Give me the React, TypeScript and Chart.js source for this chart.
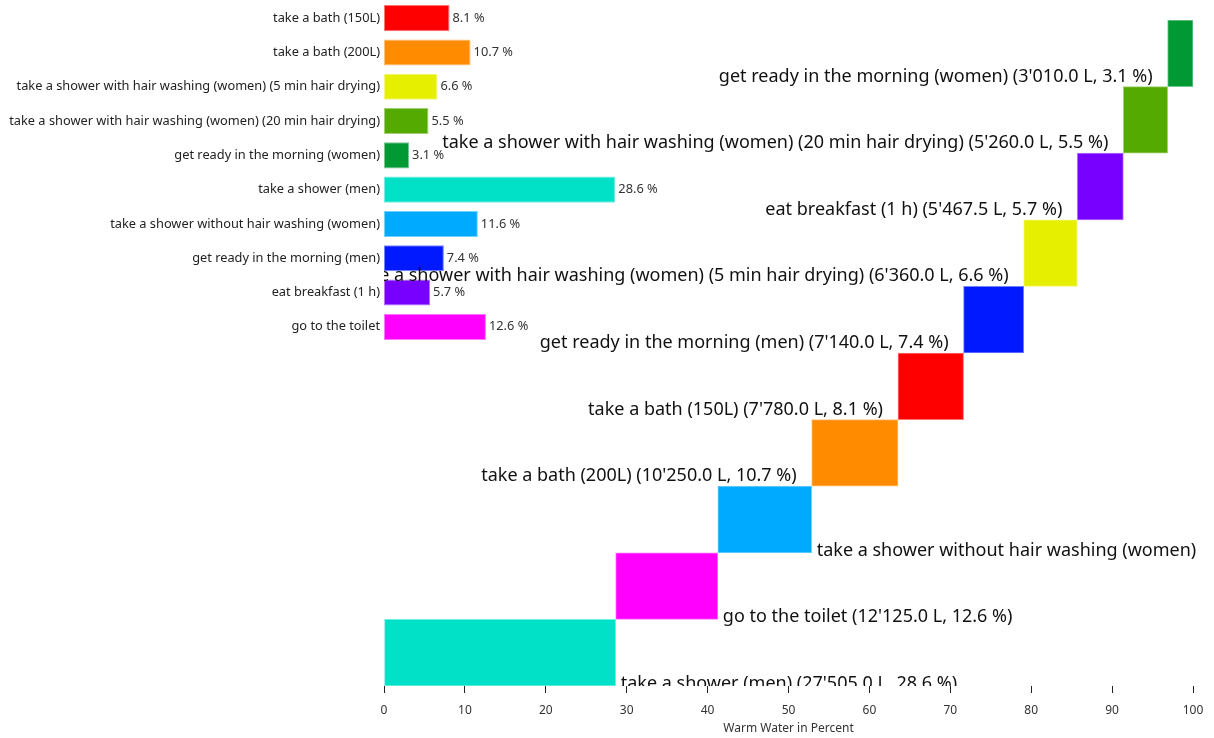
import React, { useEffect, useRef } from "react";
import { Chart, registerables } from "chart.js";

Chart.register(...registerables);

// Waterfall (main) categories, top to bottom
const categories = [
  "get ready in the morning (women)",
  "take a shower with hair washing (women) (20 min hair drying)",
  "eat breakfast (1 h)",
  "take a shower with hair washing (women) (5 min hair drying)",
  "get ready in the morning (men)",
  "take a bath (150L)",
  "take a bath (200L)",
  "take a shower without hair washing (women)",
  "go to the toilet",
  "take a shower (men)",
];
const liters = [3010, 5260, 5467.5, 6360, 7140, 7780, 10250, 11140, 12125, 27505];
const percents = [3.1, 5.5, 5.7, 6.6, 7.4, 8.1, 10.7, 11.6, 12.6, 28.6];
const colors = [
  "#009933",
  "#55aa00",
  "#7700ff",
  "#e6ef00",
  "#0019ff",
  "#ff0000",
  "#ff8c00",
  "#00aaff",
  "#ff00ff",
  "#00e1c8",
];

// Inset bar chart order, top to bottom
const insetCategories = [
  "take a bath (150L)",
  "take a bath (200L)",
  "take a shower with hair washing (women) (5 min hair drying)",
  "take a shower with hair washing (women) (20 min hair drying)",
  "get ready in the morning (women)",
  "take a shower (men)",
  "take a shower without hair washing (women)",
  "get ready in the morning (men)",
  "eat breakfast (1 h)",
  "go to the toilet",
];

const xTickMin = 0;
const xTickMax = 100;
const xTickStep = 10;
const xTitle = "Warm Water in Percent";

const FONT = "'Noto Sans', 'Open Sans', sans-serif";

function lighten(hex: string, amt: number): string {
  const n = parseInt(hex.slice(1), 16);
  const r = (n >> 16) & 255;
  const g = (n >> 8) & 255;
  const b = n & 255;
  const m = (c: number) => Math.round(c + (255 - c) * amt);
  return `rgb(${m(r)},${m(g)},${m(b)})`;
}

function fmtLiters(v: number): string {
  const [i, d] = v.toFixed(1).split(".");
  return i.replace(/\B(?=(\d{3})+(?!\d))/g, "'") + "." + d;
}

export default function App() {
  const mainRef = useRef<HTMLCanvasElement>(null);
  const insetRef = useRef<HTMLCanvasElement>(null);

  useEffect(() => {
    const n = categories.length;
    const total = liters.reduce((a, b) => a + b, 0);
    const ranges: [number, number][] = new Array(n);
    let acc = 0;
    for (let i = n - 1; i >= 0; i--) {
      const v = (liters[i] / total) * 100;
      ranges[i] = [acc, acc + v];
      acc += v;
    }
    const labelTexts = categories.map(
      (c, i) => `${c} (${fmtLiters(liters[i])} L, ${percents[i]} %)`
    );

    const labelPlugin = {
      id: "waterfallLabels",
      afterDatasetsDraw(chart: any) {
        const ctx = chart.ctx;
        const area = chart.chartArea;
        const meta = chart.getDatasetMeta(0);
        ctx.save();
        ctx.beginPath();
        ctx.rect(area.left, 0, chart.width - area.left, area.bottom);
        ctx.clip();
        ctx.font = `18px ${FONT}`;
        ctx.fillStyle = "#111";
        ctx.textBaseline = "alphabetic";
        meta.data.forEach((bar: any, i: number) => {
          const p = bar.getProps(["x", "y", "base", "height"], true);
          const start = Math.min(p.x, p.base);
          const end = Math.max(p.x, p.base);
          const bottom = p.y + p.height / 2;
          if (ranges[i][0] < 50) {
            let txt = labelTexts[i];
            const x = end + 5;
            if (x + ctx.measureText(txt).width > chart.width) txt = categories[i];
            ctx.textAlign = "left";
            ctx.fillText(txt, x, bottom + 3);
          } else {
            ctx.textAlign = "right";
            ctx.fillText(labelTexts[i], start - 15, bottom - 5);
          }
        });
        ctx.restore();
      },
    };

    const main = new Chart(mainRef.current!, {
      type: "bar",
      data: {
        labels: categories,
        datasets: [
          {
            data: ranges,
            backgroundColor: colors,
            borderColor: colors.map((c) => lighten(c, 0.45)),
            borderWidth: 1,
            borderSkipped: false,
            barPercentage: 1,
            categoryPercentage: 1,
          },
        ],
      },
      options: {
        indexAxis: "y",
        responsive: false,
        animation: false,
        layout: { padding: { left: 384, right: 21, top: 20, bottom: 0 } },
        plugins: { legend: { display: false }, tooltip: { enabled: false } },
        scales: {
          x: {
            type: "linear",
            min: xTickMin,
            max: xTickMax,
            ticks: { stepSize: xTickStep, padding: 10, color: "#333", font: { family: FONT, size: 12 } },
            grid: { drawOnChartArea: false, drawTicks: true, tickLength: 7, tickColor: "#222", color: "#222" },
            border: { display: false },
            title: {
              display: true,
              text: xTitle,
              color: "#333",
              font: { family: FONT, size: 12 },
              padding: { top: 0, bottom: 2 },
            },
            afterFit: (axis: any) => {
              axis.height = 52;
            },
          },
          y: { display: false },
        },
      } as any,
      plugins: [labelPlugin],
    });

    const insetValues = insetCategories.map((c) => percents[categories.indexOf(c)]);
    const insetColors = insetCategories.map((c) => colors[categories.indexOf(c)]);

    const valuePlugin = {
      id: "insetValues",
      afterDatasetsDraw(chart: any) {
        const ctx = chart.ctx;
        const meta = chart.getDatasetMeta(0);
        ctx.save();
        ctx.font = `12.8px ${FONT}`;
        ctx.fillStyle = "#333";
        ctx.textAlign = "left";
        ctx.textBaseline = "middle";
        meta.data.forEach((bar: any, i: number) => {
          const p = bar.getProps(["x", "y"], true);
          ctx.fillText(`${insetValues[i]} %`, p.x + 3, p.y);
        });
        ctx.restore();
      },
    };

    const inset = new Chart(insetRef.current!, {
      type: "bar",
      data: {
        labels: insetCategories,
        datasets: [
          {
            data: insetValues,
            backgroundColor: insetColors,
            borderColor: insetColors.map((c) => lighten(c, 0.45)),
            borderWidth: 1,
            borderSkipped: false,
            barPercentage: 0.76,
            categoryPercentage: 1,
          },
        ],
      },
      options: {
        indexAxis: "y",
        responsive: false,
        animation: false,
        layout: { padding: { left: 0, right: 21, top: 1, bottom: 6 } },
        plugins: { legend: { display: false }, tooltip: { enabled: false } },
        scales: {
          x: { display: false, min: xTickMin, max: xTickMax },
          y: {
            ticks: { color: "#222", font: { family: FONT, size: 12.8 }, padding: 4, autoSkip: false },
            grid: { display: false, drawTicks: false },
            border: { display: false },
            afterFit: (axis: any) => {
              axis.width = 384;
              axis.paddingTop = 0;
              axis.paddingBottom = 0;
            },
          },
        },
      } as any,
      plugins: [valuePlugin],
    });

    return () => {
      main.destroy();
      inset.destroy();
    };
  }, []);

  return (
    <div
      style={{
        position: "fixed",
        left: 0,
        top: 0,
        width: 1214,
        height: 738,
        background: "#fff",
        overflow: "hidden",
      }}
    >
      <canvas
        ref={insetRef}
        width={1214}
        height={350}
        style={{ position: "absolute", left: 0, top: 0 }}
      />
      <canvas
        ref={mainRef}
        width={1214}
        height={738}
        style={{ position: "absolute", left: 0, top: 0 }}
      />
    </div>
  );
}
